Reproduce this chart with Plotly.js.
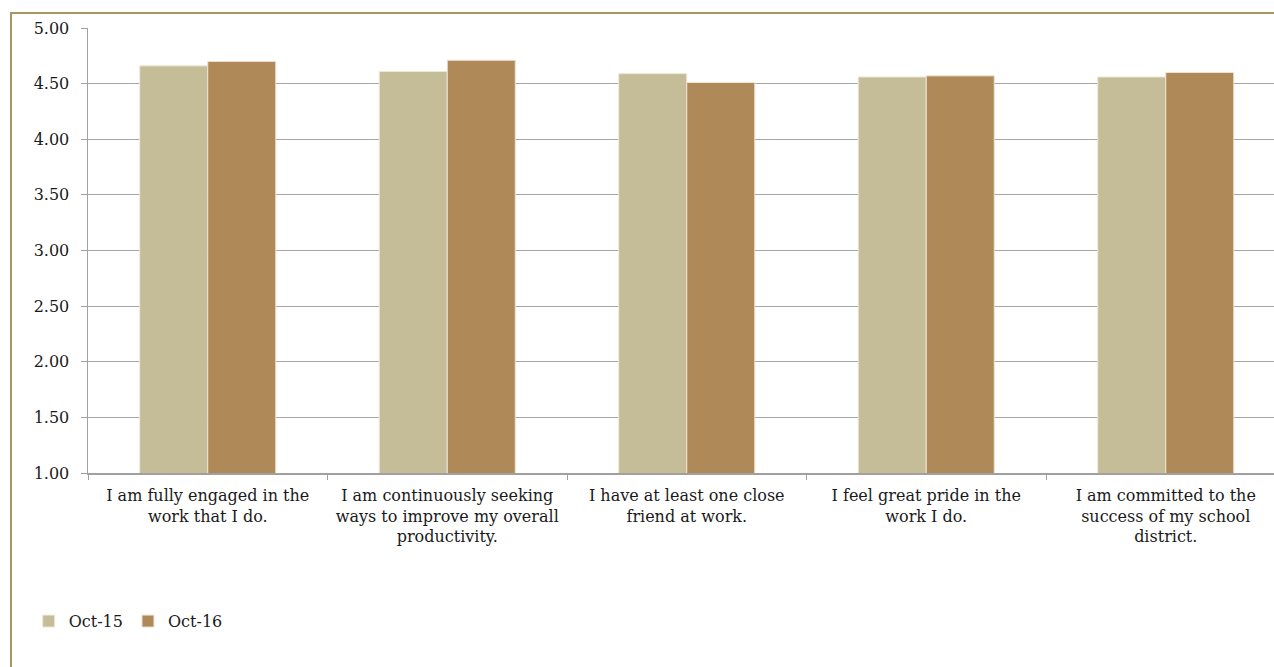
<!DOCTYPE html>
<html>
<head>
<meta charset="utf-8">
<script src="https://cdn.plot.ly/plotly-3.0.1.min.js"></script>
<style>
  html, body { margin: 0; padding: 0; background: #fff; }
  #wrap { position: relative; width: 1274px; height: 667px; overflow: hidden; }
  #chart { position: absolute; left: 0; top: 0; width: 1274px; height: 667px; }
  #frame { position: absolute; left: 10px; top: 12px; width: 1400px; height: 800px;
           border-top: 2px solid #A8985E; border-left: 2px solid #A8985E; pointer-events: none; }
</style>
</head>
<body>
<div id="wrap">
  <div id="chart"></div>
  <div id="frame"></div>
</div>
<script>
const categories = [
  "I am fully engaged in the<br>work that I do.",
  "I am continuously seeking<br>ways to improve my overall<br>productivity.",
  "I have at least one close<br>friend at work.",
  "I feel great pride in the<br>work I do.",
  "I am committed to the<br>success of my school<br>district."
];
const seriesNames = ["Oct-15", "Oct-16"];
const oct15 = [4.66, 4.61, 4.59, 4.56, 4.56];
const oct16 = [4.70, 4.71, 4.51, 4.57, 4.60];
const yTicks = [1.0, 1.5, 2.0, 2.5, 3.0, 3.5, 4.0, 4.5, 5.0];

const FONT = "DejaVu Serif, Liberation Serif, serif";

const traces = [
  { type: "bar", name: seriesNames[0], x: categories, y: oct15,
    marker: { color: "#C4BD97", line: { color: "#EEE9DC", width: 1 } } },
  { type: "bar", name: seriesNames[1], x: categories, y: oct16,
    marker: { color: "#AF8A58", line: { color: "#EEE4D4", width: 1 } } }
];

const layout = {
  width: 1274, height: 667,
  margin: { l: 88, r: 0, t: 28, b: 194, pad: 0 },
  paper_bgcolor: "#fff", plot_bgcolor: "#fff",
  font: { family: FONT, size: 16, color: "#1a1a1a" },
  barmode: "group", bargap: 0.432, bargroupgap: 0,
  showlegend: true,
  legend: { orientation: "h", x: -0.05, xanchor: "left", y: -0.333, yanchor: "middle",
            font: { family: FONT, size: 16, color: "#1a1a1a" }, traceorder: "normal",
            itemwidth: 30, bgcolor: "rgba(0,0,0,0)" },
  xaxis: {
    type: "category", range: [-0.5, 4.452], tickson: "boundaries",
    ticks: "outside", ticklen: 5, tickcolor: "#A0A0A0", tickwidth: 1,
    ticklabelstandoff: 7,
    showline: true, linecolor: "#A0A0A0", linewidth: 1.5,
    showgrid: false, zeroline: false, fixedrange: true,
    tickfont: { family: FONT, size: 16, color: "#1a1a1a" }, automargin: false
  },
  yaxis: {
    range: [1, 5], tickvals: yTicks, tickformat: ".2f",
    ticks: "outside", ticklen: 6, tickcolor: "#A0A0A0", tickwidth: 1,
    ticklabelstandoff: 8,
    showline: true, linecolor: "#A0A0A0", linewidth: 1.5,
    showgrid: true, gridcolor: "#A6A6A6", gridwidth: 1.2,
    zeroline: false, fixedrange: true,
    tickfont: { family: FONT, size: 16, color: "#1a1a1a" }, automargin: false
  }
};

Plotly.newPlot("chart", traces, layout, { displayModeBar: false, staticPlot: true });
</script>
</body>
</html>
